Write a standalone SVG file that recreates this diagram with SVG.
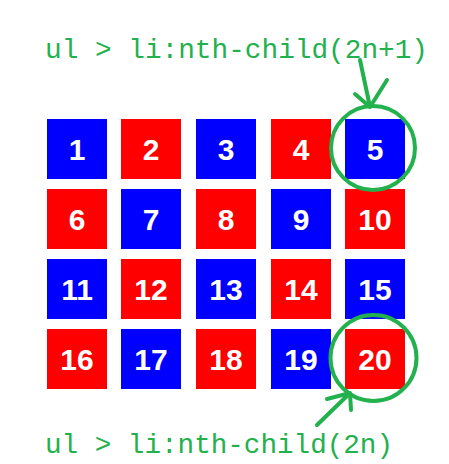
<svg xmlns="http://www.w3.org/2000/svg" width="449" height="464" viewBox="0 0 449 464">
<style>
.b{fill:#0000ff}.r{fill:#ff0000}
.n{fill:#fff;font-family:"Liberation Sans",Arial,sans-serif;font-weight:bold;font-size:30px;text-anchor:middle}
.lbl{fill:#22b14c;font-family:"Liberation Mono","DejaVu Sans Mono",monospace;font-size:28px}
.g{fill:none;stroke:#22b14c;stroke-width:4;stroke-linecap:round;stroke-linejoin:round}
</style>
<rect width="449" height="464" fill="#fff"/>
<text class="lbl" x="45" y="58" textLength="383" lengthAdjust="spacingAndGlyphs">ul &gt; li:nth-child(2n+1)</text>
<text class="lbl" x="45" y="453" textLength="348" lengthAdjust="spacingAndGlyphs">ul &gt; li:nth-child(2n)</text>
<g id="n1"><rect class="b" x="47" y="119" width="60" height="60"/><text class="n" x="77" y="159.5">1</text></g>
<g id="n2"><rect class="r" x="121" y="119" width="60" height="60"/><text class="n" x="151" y="159.5">2</text></g>
<g id="n3"><rect class="b" x="196" y="119" width="60" height="60"/><text class="n" x="226" y="159.5">3</text></g>
<g id="n4"><rect class="r" x="271" y="119" width="60" height="60"/><text class="n" x="301" y="159.5">4</text></g>
<g id="n5"><rect class="b" x="345" y="119" width="60" height="60"/><text class="n" x="375" y="159.5">5</text></g>
<g id="n6"><rect class="r" x="47" y="189" width="60" height="60"/><text class="n" x="77" y="229.5">6</text></g>
<g id="n7"><rect class="b" x="121" y="189" width="60" height="60"/><text class="n" x="151" y="229.5">7</text></g>
<g id="n8"><rect class="r" x="196" y="189" width="60" height="60"/><text class="n" x="226" y="229.5">8</text></g>
<g id="n9"><rect class="b" x="271" y="189" width="60" height="60"/><text class="n" x="301" y="229.5">9</text></g>
<g id="n10"><rect class="r" x="345" y="189" width="60" height="60"/><text class="n" x="375" y="229.5">10</text></g>
<g id="n11"><rect class="b" x="47" y="259" width="60" height="60"/><text class="n" x="77" y="299.5">11</text></g>
<g id="n12"><rect class="r" x="121" y="259" width="60" height="60"/><text class="n" x="151" y="299.5">12</text></g>
<g id="n13"><rect class="b" x="196" y="259" width="60" height="60"/><text class="n" x="226" y="299.5">13</text></g>
<g id="n14"><rect class="r" x="271" y="259" width="60" height="60"/><text class="n" x="301" y="299.5">14</text></g>
<g id="n15"><rect class="b" x="345" y="259" width="60" height="60"/><text class="n" x="375" y="299.5">15</text></g>
<g id="n16"><rect class="r" x="47" y="329" width="60" height="60"/><text class="n" x="77" y="369.5">16</text></g>
<g id="n17"><rect class="b" x="121" y="329" width="60" height="60"/><text class="n" x="151" y="369.5">17</text></g>
<g id="n18"><rect class="r" x="196" y="329" width="60" height="60"/><text class="n" x="226" y="369.5">18</text></g>
<g id="n19"><rect class="b" x="271" y="329" width="60" height="60"/><text class="n" x="301" y="369.5">19</text></g>
<g id="n20"><rect class="r" x="345" y="329" width="60" height="60"/><text class="n" x="375" y="369.5">20</text></g>
<g id="connectors">
<circle class="g" cx="373" cy="148" r="42"/>
<circle class="g" cx="373.5" cy="358" r="43"/>
<path class="g" d="M360 60 L370 107 M355 94 L370 107 L387 80"/>
<path class="g" d="M317 425 L350 393 M327 399 L350 393 L351 410"/>
</g>
</svg>
